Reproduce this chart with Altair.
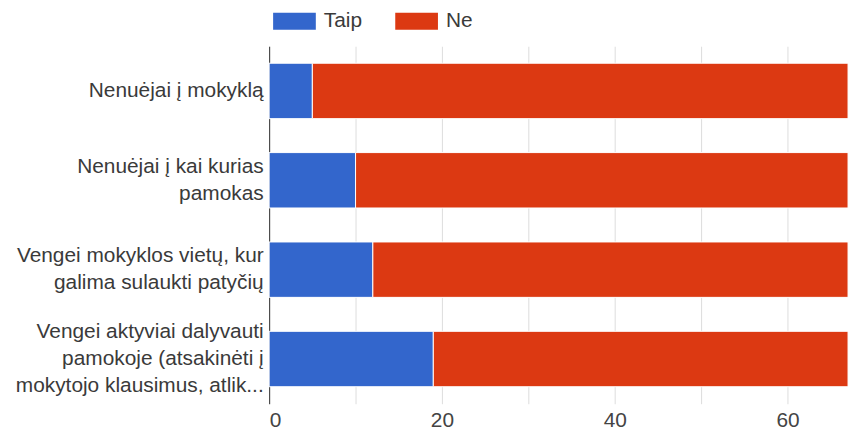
import altair as alt
import pandas as pd

categories = [
    "Nenuėjai į mokyklą",
    "Nenuėjai į kai kurias\npamokas",
    "Vengei mokyklos vietų, kur\ngalima sulaukti patyčių",
    "Vengei aktyviai dalyvauti\npamokoje (atsakinėti į\nmokytojo klausimus, atlik...",
]
series = ["Taip", "Ne"]
taip_values = [5, 10, 12, 19]
ne_values = [62, 57, 55, 48]
colors = ["#3366cc", "#dc3912"]
tick_values = [0, 10, 20, 30, 40, 50, 60]

rows = []
for i, c in enumerate(categories):
    rows.append({"label": c, "answer": "Taip", "value": taip_values[i], "ord": 0})
    rows.append({"label": c, "answer": "Ne", "value": ne_values[i], "ord": 1})
df = pd.DataFrame(rows)

FONT = "Liberation Sans"
FS = 21
LH = 27

chart = (
    alt.Chart(df)
    .mark_bar(stroke="white", strokeWidth=1)
    .encode(
        y=alt.Y(
            "label:N",
            sort=categories,
            scale=alt.Scale(paddingInner=0.38, paddingOuter=0.19),
            axis=alt.Axis(
                title=None,
                labelExpr="split(datum.label, '\\n')",
                labelOffset={"expr": f"-(length(split(datum.value, '\\n')) - 1) * {LH / 2}"},
                labelFont=FONT,
                labelFontSize=FS,
                labelColor="#3a3a3a",
                labelLineHeight=LH,
                labelLimit=400,
                labelPadding=6,
                ticks=False,
                domain=True,
                domainColor="#333333",
                domainWidth=1,
                grid=False,
            ),
        ),
        x=alt.X(
            "value:Q",
            stack="zero",
            scale=alt.Scale(domain=[0, 67], nice=False),
            axis=alt.Axis(
                title=None,
                values=tick_values,
                labelExpr="datum.value % 20 == 0 ? datum.label : ''",
                labelFont=FONT,
                labelFontSize=FS,
                labelColor="#444444",
                labelPadding=6,
                ticks=False,
                domain=False,
                grid=True,
                gridColor="#dddddd",
                gridWidth=1,
            ),
        ),
        color=alt.Color(
            "answer:N",
            scale=alt.Scale(domain=series, range=colors),
            legend=alt.Legend(
                title=None,
                orient="none",
                legendX=4,
                legendY=-47,
                direction="horizontal",
                symbolType="M-1,-0.4H1V0.4H-1Z",
                symbolSize=1849,
                symbolStrokeWidth=0,
                symbolOpacity=1,
                labelFont=FONT,
                labelFontSize=FS,
                labelColor="#3a3a3a",
                labelOffset=8,
                columnPadding=33,
            ),
        ),
        order=alt.Order("ord:Q"),
    )
    .properties(
        width=583,
        height=360,
        autosize=alt.AutoSizeParams(type="none"),
        padding={"left": 263, "top": 37, "right": 6, "bottom": 31},
    )
    .configure_view(stroke=None)
)

chart.save("out.html", embed_options={"renderer": "svg", "actions": False})
